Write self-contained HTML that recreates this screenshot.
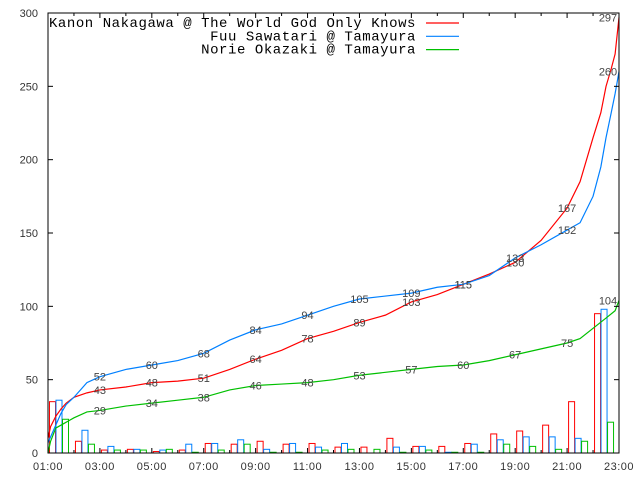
<!DOCTYPE html>
<html><head><meta charset="utf-8"><style>
body{margin:0;background:#fff;}
svg{display:block;font-family:"Liberation Sans",sans-serif;}
</style></head><body>
<svg id="chart" width="640" height="480"></svg>
<script>
const hours=[1,2,3,4,5,6,7,8,9,10,11,12,13,14,15,16,17,18,19,20,21,22];
const barsRed=[35,8,2,2.5,1,2,6.5,6,8,6,6.5,4,4,10,4.5,4.5,6.5,13,15,19,35,95];
const barsBlue=[36,15.5,4.5,2.5,2,6,6.5,9,2.5,6.5,4,6.5,0,4,4.5,0.5,6,9,11,11,10,98];
const barsGreen=[23,6,2,2,2.5,0.5,2,6,0.5,0.5,2,2.5,2.5,0.5,2,0.5,0.5,6,4.5,2.5,8,21];
const redT=[1,1.1,1.3,1.5,1.7,2,2.5,3,4,5,6,7,8,9,10,11,12,13,14,15,16,17,18,19,20,21,21.5,22,22.3,22.5,22.7,22.85,23];
const redV=[10,18,25,30,34,38,41,43,45,48,49,51,57,64,70,78,83,89,94,103,108,115,122,130,145,167,185,215,232,250,262,272,297];
const blueT=[1,1.2,1.5,1.7,2,2.3,2.5,3,4,5,6,7,8,9,10,11,12,13,14,15,16,17,18,19,20,21,21.5,22,22.3,22.5,22.7,22.85,23];
const blueV=[7,15,27,33,38,44,48,52,57,60,63,68,77,84,88,94,100,105,107,109,113,115,121,133,142,152,157,175,195,215,232,245,260];
const greenT=[1,1.1,1.3,1.6,1.8,2,2.5,3,4,5,6,7,8,9,10,11,12,13,14,15,16,17,18,19,20,21,21.5,22,22.5,22.85,23];
const greenV=[0,8,17,20,22,24,28,29,32,34,36,38,43,46,47,48,50,53,55,57,59,60,63,67,71,75,78,85,92,97,104];
const redLbl=[43,48,51,64,78,89,103,115,130,167,297];
const blueLbl=[52,60,68,84,94,105,109,115,133,152,260];
const greenLbl=[29,34,38,46,48,53,57,60,67,75,104];
const lblHours=[3,5,7,9,11,13,15,17,19,21,23];
const yTicks=[0,50,100,150,200,250,300];
const xTickLabels=["01:00","03:00","05:00","07:00","09:00","11:00","13:00","15:00","17:00","19:00","21:00","23:00"];

const L=48,R=619,T=13,B=453;
const hw=(R-L)/22;
const X=h=>L+(h-1)*hw;
const Y=v=>B-v*(B-T)/300;
const svg=document.getElementById('chart');
const NS='http://www.w3.org/2000/svg';
function mk(tag,attrs,parent){const e=document.createElementNS(NS,tag);for(const k in attrs)e.setAttribute(k,attrs[k]);(parent||svg).appendChild(e);return e;}

const cols=['#ff0000','#0080ff','#00c000'];
[barsRed,barsBlue,barsGreen].forEach((arr,si)=>{
  arr.forEach((v,i)=>{
    const x0=X(hours[i])+1.5+si*6.5;
    const r=mk('rect',{x:x0,y:Y(v),width:6,height:B-Y(v),fill:'none',stroke:cols[si],'stroke-width':1});
    
    
  });
});
function line(ts,vs,c,name){
  let d='M'+X(ts[0])+','+Y(vs[0]);
  for(let i=1;i<ts.length;i++){d+=' L'+X(ts[i])+','+Y(vs[i]);}
  const p=mk('path',{d:d,fill:'none',stroke:c,'stroke-width':1.2});
  
  
}
line(redT,redV,cols[0],'kanon-line');
line(blueT,blueV,cols[1],'fuu-line');
line(greenT,greenV,cols[2],'norie-line');
[redLbl,blueLbl,greenLbl].forEach(arr=>{
  arr.forEach((v,i)=>{
    const last=lblHours[i]==23;
    const t=mk('text',{x:X(lblHours[i])-(last?11:0),y:last?Math.max(Y(v)+4,20):Y(v)+4,'text-anchor':'middle','font-size':11,fill:'#444'});
    t.textContent=v;
    
    
  });
});
const f=mk('rect',{x:L,y:T,width:R-L,height:B-T,fill:'none',stroke:'#000','stroke-width':1});


yTicks.forEach(v=>{
  mk('line',{x1:L,x2:L+5,y1:Y(v),y2:Y(v),stroke:'#000'});
  mk('line',{x1:R,x2:R-5,y1:Y(v),y2:Y(v),stroke:'#000'});
  const t=mk('text',{x:38,y:Y(v)+4,'text-anchor':'end','font-size':11,fill:'#333'});
  t.textContent=v;
  
  
});
for(let h=1;h<=23;h++){
  const len=(h%2==1)?5:3;
  mk('line',{x1:X(h),x2:X(h),y1:B,y2:B-len,stroke:'#000'});
  mk('line',{x1:X(h),x2:X(h),y1:T,y2:T+len,stroke:'#000'});
}
xTickLabels.forEach((s,i)=>{
  const t=mk('text',{x:X(1+2*i),y:470,'text-anchor':'middle','font-size':11,fill:'#333','letter-spacing':'0.5'});
  t.textContent=s;
  
  
});
const names=["Kanon Nakagawa @ The World God Only Knows","Fuu Sawatari @ Tamayura","Norie Okazaki @ Tamayura"];
names.forEach((n,i)=>{
  const y=27+i*13.3;
  const t=mk('text',{x:416,y:y,'text-anchor':'end','font-size':14,'font-family':'Liberation Mono, monospace','letter-spacing':'0.55',fill:'#000'});
  t.textContent=n;
  
  
  mk('line',{x1:426,x2:459,y1:y-4,y2:y-4,stroke:cols[i],'stroke-width':1.2});
});
</script>
</body></html>
